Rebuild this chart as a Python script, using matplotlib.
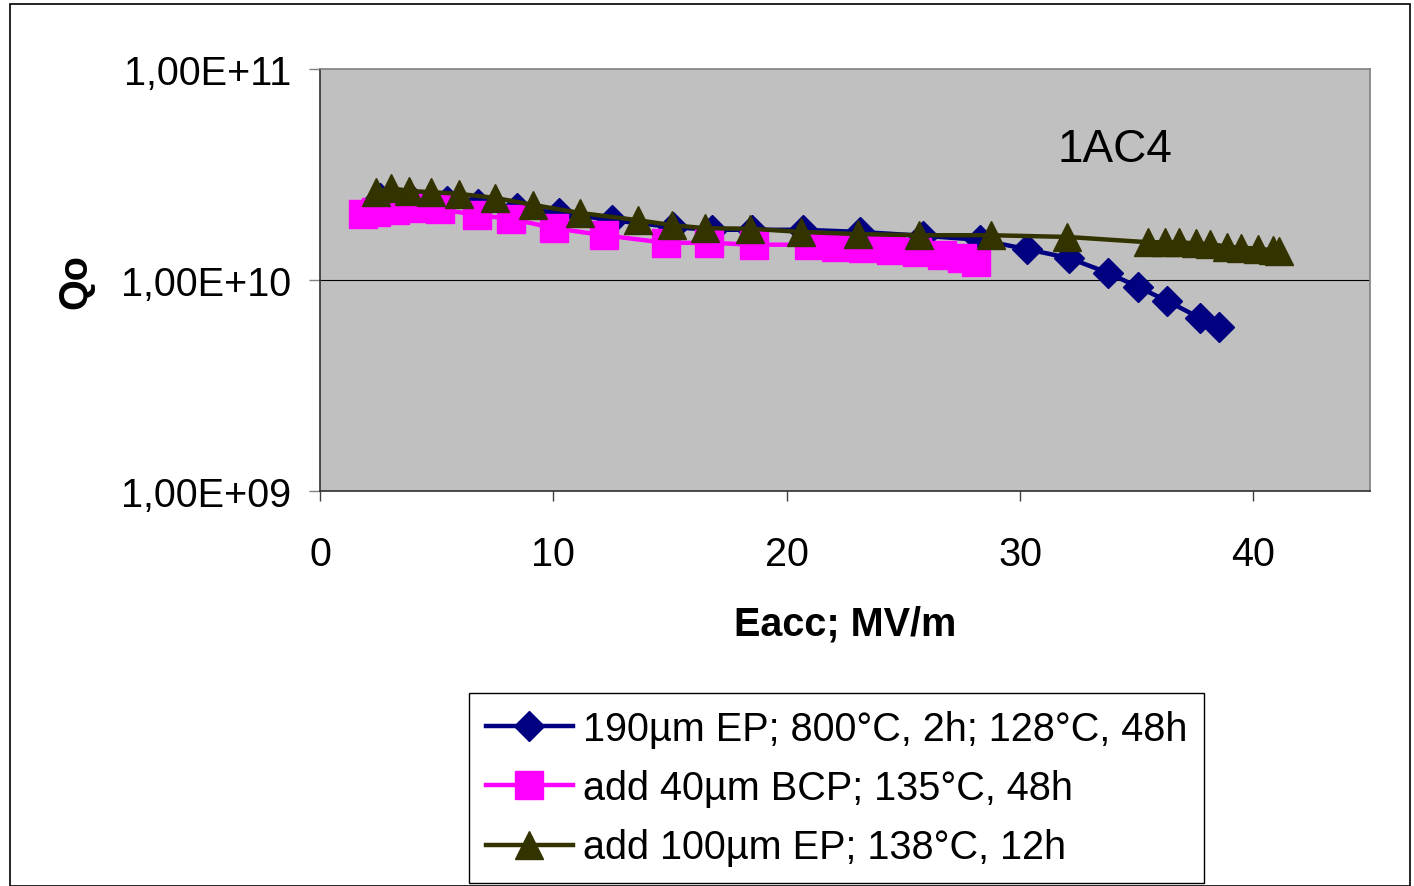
import matplotlib
matplotlib.use("Agg")
import matplotlib.pyplot as plt
from matplotlib.patches import Rectangle

# valores (Eacc en MV/m, Qo)
eacc_ep = [2.57, 3.86, 5.44, 6.77, 8.44, 10.24, 12.52, 15.13, 16.80, 18.52, 20.70,
           23.15, 25.85, 28.29, 30.30, 32.10, 33.78, 35.06, 36.31, 37.72, 38.53]
q_ep = [2.45e10, 2.45e10, 2.37e10, 2.29e10, 2.19e10, 2.08e10, 1.92e10, 1.78e10, 1.73e10,
        1.73e10, 1.73e10, 1.69e10, 1.62e10, 1.55e10, 1.40e10, 1.27e10, 1.08e10, 9.27e9,
        7.95e9, 6.60e9, 5.99e9]

eacc_bcp = [1.84, 2.40, 3.21, 4.07, 5.14, 6.73, 8.19, 10.03, 12.17, 14.83, 16.67, 18.60,
            20.96, 22.12, 23.27, 24.47, 25.59, 26.66, 27.52, 28.12]
q_bcp = [2.05e10, 2.10e10, 2.15e10, 2.19e10, 2.17e10, 2.03e10, 1.95e10, 1.76e10, 1.63e10,
         1.50e10, 1.50e10, 1.47e10, 1.47e10, 1.43e10, 1.42e10, 1.39e10, 1.36e10, 1.31e10,
         1.27e10, 1.22e10]

eacc_ep2 = [2.40, 3.04, 3.81, 4.76, 5.96, 7.50, 9.13, 11.14, 13.63, 15.09, 16.50, 18.43,
            20.62, 23.06, 25.67, 28.76, 32.02, 35.49, 36.22, 36.82, 37.55, 38.15, 38.88,
            39.48, 40.21, 40.85, 41.11]
q_ep2 = [2.61e10, 2.73e10, 2.64e10, 2.61e10, 2.56e10, 2.45e10, 2.27e10, 2.08e10, 1.92e10,
         1.82e10, 1.76e10, 1.75e10, 1.69e10, 1.65e10, 1.63e10, 1.63e10, 1.60e10, 1.51e10,
         1.51e10, 1.51e10, 1.49e10, 1.48e10, 1.44e10, 1.42e10, 1.41e10, 1.38e10, 1.37e10]

etiquetas = ["190µm EP; 800°C, 2h; 128°C, 48h",
             "add 40µm BCP; 135°C, 48h",
             "add 100µm EP; 138°C, 12h"]

x_ticks = [0, 10, 20, 30, 40]
y_ticks = [1e9, 1e10, 1e11]
y_ticklabels = ["1,00E+09", "1,00E+10", "1,00E+11"]

plt.rcParams["font.family"] = ["Liberation Sans", "DejaVu Sans"]

W, H = 1414, 887
fig = plt.figure(figsize=(W / 100, H / 100), dpi=100)
fig.patch.set_facecolor("white")

# marco exterior
fig.patches.append(Rectangle((10 / W, 0), 1400 / W, 1 - 5 / H, transform=fig.transFigure,
                             fill=False, edgecolor="black", linewidth=1.2))

ax = fig.add_axes([320 / W, 1 - 492 / H, 1050 / W, 422 / H])
ax.set_facecolor("#C0C0C0")
ax.set_yscale("log")
ax.set_xlim(0, 45)
ax.set_ylim(1e9, 1e11)

ax.axhline(1e10, color="black", linewidth=0.8, zorder=1)

ax.plot(eacc_ep, q_ep, color="#000080", linewidth=3.2, marker="D", markersize=15,
        markeredgecolor="#000080", label=etiquetas[0], zorder=3)
ax.plot(eacc_bcp, q_bcp, color="#FF00FF", linewidth=3.2, marker="s", markersize=20,
        markeredgecolor="#FF00FF", label=etiquetas[1], zorder=4)
ax.plot(eacc_ep2, q_ep2, color="#333300", linewidth=3.2, marker="^", markersize=20,
        markeredgecolor="#333300", label=etiquetas[2], zorder=5)

ax.set_xticks(x_ticks)
ax.set_xticklabels([str(t) for t in x_ticks])
ax.set_yticks(y_ticks)
ax.set_yticklabels(y_ticklabels)
ax.minorticks_off()
ax.tick_params(axis="x", direction="out", length=7, width=1, color="#404040",
               labelsize=28.5, pad=25)
ax.tick_params(axis="y", direction="out", length=8, width=1, color="#808080",
               labelsize=28.5, pad=13)

for lado in ["top", "right"]:
    ax.spines[lado].set_color("#808080")
    ax.spines[lado].set_linewidth(1.2)
for lado in ["left", "bottom"]:
    ax.spines[lado].set_color("#303030")
    ax.spines[lado].set_linewidth(1.2)

ax.text(0.757, 0.81, "1AC4", transform=ax.transAxes, fontsize=33,
        ha="center", va="center")

fig.text(75 / W, 1 - 282 / H, "Qo", rotation=90, fontsize=28.5, fontweight="bold",
         ha="center", va="center")
fig.text(845 / W, 1 - 625 / H, "Eacc; MV/m", fontsize=28.5, fontweight="bold",
         ha="center", va="center")

leg = fig.legend(loc="upper left", bbox_to_anchor=(469 / W, 1 - 694 / H),
                 fontsize=28.5, frameon=True, fancybox=False, framealpha=1,
                 edgecolor="black", handlelength=2.2, handletextpad=0.25,
                 labelspacing=0.54, borderpad=0.42, borderaxespad=0,
                 markerscale=1.0)
leg.get_frame().set_linewidth(1.0)

fig.savefig("out.png", dpi=100)
